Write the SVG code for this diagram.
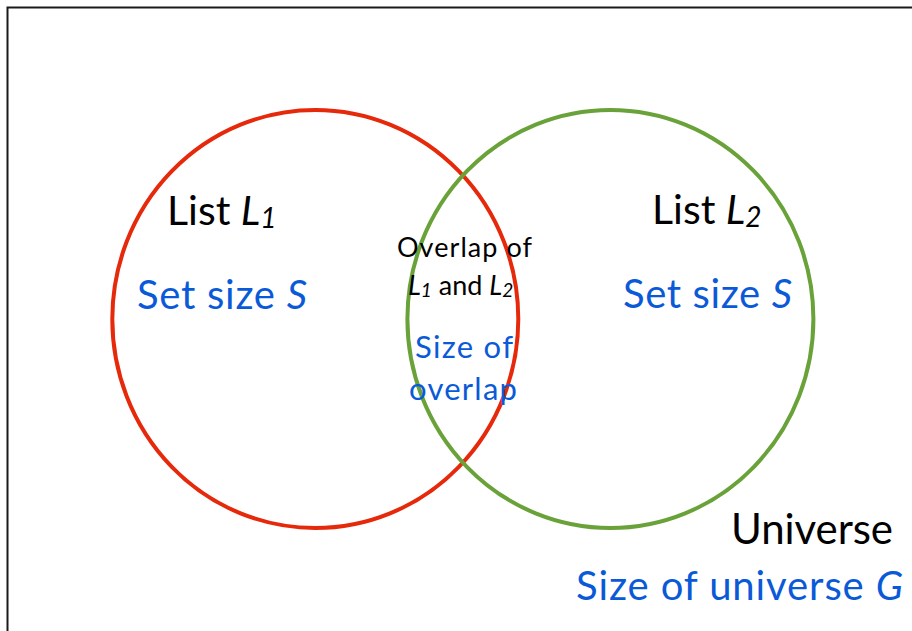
<svg xmlns="http://www.w3.org/2000/svg" width="912" height="631" viewBox="0 0 912 631">
  <style>
    .t { font-family: Lato, "Open Sans", "Liberation Sans", sans-serif; }
    .k { fill: #000000; }
    .b { fill: #0a5ad8; }
    .i { font-style: italic; }
    .set { fill: none; stroke-width: 4; }
  </style>
  <rect width="912" height="631" fill="#ffffff"/>
  <!-- universe frame -->
  <g id="universe">
    <rect x="7.5" y="7.5" width="920" height="640" fill="none" stroke="#1a1a1a" stroke-width="2"/>
    <text class="t k" x="731" y="544" font-size="42" textLength="162">Universe</text>
    <text class="t b" x="576" y="600" font-size="40" textLength="327" lengthAdjust="spacing">Size of universe <tspan class="i">G</tspan></text>
  </g>
  <!-- list L1 -->
  <g id="list1">
    <ellipse class="set" cx="315.3" cy="319" rx="203" ry="209" stroke="#e6290b"/>
    <text class="t k" x="167" y="225" font-size="41">List <tspan class="i">L</tspan><tspan class="i" font-size="28" dy="3">1</tspan></text>
    <text class="t b" x="137" y="309" font-size="40" textLength="170" lengthAdjust="spacing">Set size <tspan class="i">S</tspan></text>
  </g>
  <!-- list L2 -->
  <g id="list2">
    <ellipse class="set" cx="610.4" cy="319" rx="203" ry="209" stroke="#6aa23a"/>
    <text class="t k" x="652" y="224" font-size="41">List <tspan class="i">L</tspan><tspan class="i" font-size="28" dy="3">2</tspan></text>
    <text class="t b" x="623" y="308" font-size="40" textLength="169" lengthAdjust="spacing">Set size <tspan class="i">S</tspan></text>
  </g>
  <!-- overlap -->
  <g id="overlap">
    <text class="t k" x="397" y="257" font-size="27" textLength="135" lengthAdjust="spacing">Overlap of</text>
    <text class="t k" x="408" y="295" font-size="27"><tspan class="i">L</tspan><tspan class="i" font-size="19" dy="2">1</tspan><tspan dy="-2"> and </tspan><tspan class="i">L</tspan><tspan class="i" font-size="19" dy="2">2</tspan></text>
    <text class="t b" x="415" y="358" font-size="31" textLength="98" lengthAdjust="spacing">Size of</text>
    <text class="t b" x="409" y="400" font-size="31" textLength="108" lengthAdjust="spacing">overlap</text>
  </g>
</svg>
